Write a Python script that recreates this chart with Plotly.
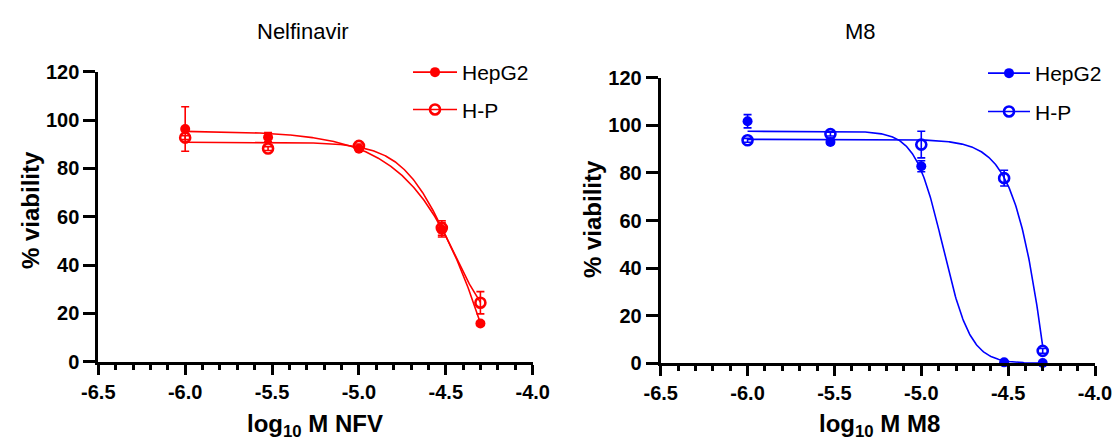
import numpy as np
import plotly.graph_objects as go

# ---------------- data ----------------
log_conc = [-6.0, -5.523, -5.0, -4.523, -4.301]   # log10 M

nfv_hepg2 = [96.3, 92.9, 88.1, 54.6, 15.8]
nfv_hepg2_err = [9.2, 1.9, 0.8, 3.0, 0.8]
nfv_hp = [92.7, 88.2, 89.3, 55.3, 24.4]
nfv_hp_err = [0.8, 0.8, 0.8, 3.0, 4.6]

m8_hepg2 = [101.7, 93.0, 82.8, 0.4, 0.1]
m8_hepg2_err = [2.8, 0.8, 2.3, 0.3, 0.2]
m8_hp = [93.7, 96.3, 91.9, 77.8, 5.2]
m8_hp_err = [0.8, 0.8, 5.6, 3.3, 1.0]

# fitted logistic curves: top, bottom, logIC50, hill, asymmetry
fit_nfv_hepg2 = [95.5, -200.0, -4.037, 1.645, 1.0]
fit_nfv_hp = [90.8, 5.0, -4.473, 3.08, 1.0]
fit_m8_hepg2 = [97.5, 0.0, -4.875, 5.5, 1.0]
fit_m8_hp = [94.1, -100.0, -3.9835, 3.82, 10.0]

x_ticks = [-6.5, -6.0, -5.5, -5.0, -4.5, -4.0]
y_ticks = [0, 20, 40, 60, 80, 100, 120]

RED = "#FF0000"
BLUE = "#0000FF"
FONT = "Arial, Liberation Sans, sans-serif"
W, H = 1115, 441


def curve(p, xs):
    top, bot, c, h, s = p
    xs = np.asarray(xs)
    return bot + (top - bot) / (1 + 10 ** ((xs - c) * h)) ** s


xs_fit = np.linspace(log_conc[0], log_conc[-1], 400)

fig = go.Figure()


def add_panel(xa, ya, leg, color, vals_f, err_f, vals_o, err_o, fit_f, fit_o):
    common = dict(xaxis=xa, yaxis=ya, legend=leg, cliponaxis=False)
    for p in (fit_f, fit_o):
        fig.add_trace(go.Scatter(x=xs_fit, y=curve(p, xs_fit), mode="lines",
                                 line=dict(color=color, width=1.6), showlegend=False,
                                 hoverinfo="skip", **common))
    fig.add_trace(go.Scatter(x=log_conc, y=vals_f, mode="markers", name="HepG2",
                             marker=dict(symbol="circle", size=10, color=color),
                             error_y=dict(type="data", array=err_f, color=color,
                                          thickness=1.6, width=4),
                             showlegend=False, **common))
    fig.add_trace(go.Scatter(x=log_conc, y=vals_o, mode="markers", name="H-P",
                             marker=dict(symbol="circle-open", size=10, color=color,
                                         line=dict(width=2.6, color=color)),
                             error_y=dict(type="data", array=err_o, color=color,
                                          thickness=1.6, width=4),
                             showlegend=False, **common))
    # legend entries (line + marker)
    fig.add_trace(go.Scatter(x=[None], y=[None], mode="lines+markers", name="HepG2",
                             line=dict(color=color, width=1.6),
                             marker=dict(symbol="circle", size=10, color=color),
                             legendgroup=leg + "a", **common))
    fig.add_trace(go.Scatter(x=[None], y=[None], mode="lines+markers", name="H-P",
                             line=dict(color=color, width=1.6),
                             marker=dict(symbol="circle-open", size=10, color=color,
                                         line=dict(width=2.6, color=color)),
                             legendgroup=leg + "b", **common))


add_panel("x", "y", "legend", RED, nfv_hepg2, nfv_hepg2_err, nfv_hp, nfv_hp_err,
          fit_nfv_hepg2, fit_nfv_hp)
add_panel("x2", "y2", "legend2", BLUE, m8_hepg2, m8_hepg2_err, m8_hp, m8_hp_err,
          fit_m8_hepg2, fit_m8_hp)

# pixel geometry of plot areas (page pixels)
L1, R1, T1, B1 = 98.3, 532.7, 71.7, 361.7
L2, R2, T2, B2 = 660.7, 1095.0, 77.7, 363.3


def px(x):
    return x / W


def py(y):
    return 1 - y / H


tickfont = dict(family=FONT, size=20, color="black", weight="bold")
xaxis_common = dict(range=[-6.5, -4.0], tickmode="array", tickvals=x_ticks,
                    ticktext=[f"{v:.1f}" for v in x_ticks], automargin=False,
                    showline=True, linewidth=3, linecolor="black", mirror=False,
                    ticks="outside", ticklen=10, tickwidth=3, tickcolor="black",
                    showgrid=False, zeroline=False, tickfont=tickfont,
                    minor=dict(dtick=0.1, tick0=-6.5, ticks="outside", ticklen=5,
                               tickwidth=2.5, tickcolor="black", showgrid=False))
yaxis_common = dict(range=[0, 120], tickmode="array", tickvals=y_ticks,
                    automargin=False,
                    showline=True, linewidth=3, linecolor="black",
                    ticks="outside", ticklen=12, tickwidth=3, tickcolor="black",
                    showgrid=False, zeroline=False, tickfont=tickfont)

legfont = dict(family=FONT, size=21, color="black")
fig.update_layout(
    template="none",
    width=W, height=H,
    margin=dict(l=0, r=0, t=0, b=0, autoexpand=False),
    paper_bgcolor="white", plot_bgcolor="white",
    showlegend=True,
    xaxis=dict(domain=[px(L1), px(R1)], anchor="y", **xaxis_common),
    yaxis=dict(domain=[py(B1), py(T1)], anchor="x", **yaxis_common),
    xaxis2=dict(domain=[px(L2), px(R2)], anchor="y2", **xaxis_common),
    yaxis2=dict(domain=[py(B2), py(T2)], anchor="x2", **yaxis_common),
    legend=dict(x=px(408), y=py(52), xanchor="left", yanchor="top",
                bgcolor="rgba(0,0,0,0)", font=legfont, borderwidth=0,
                traceorder="grouped", tracegroupgap=7, itemwidth=44),
    legend2=dict(x=px(983), y=py(53), xanchor="left", yanchor="top",
                 bgcolor="rgba(0,0,0,0)", font=legfont, borderwidth=0,
                 traceorder="grouped", tracegroupgap=8, itemwidth=42),
)

ann_font = dict(family=FONT, size=22, color="black")
bold_font = dict(family=FONT, size=24, color="black", weight="bold")
fig.add_annotation(x=px(303), y=py(31), xref="paper", yref="paper", text="Nelfinavir",
                   showarrow=False, font=ann_font, xanchor="center", yanchor="middle")
fig.add_annotation(x=px(860), y=py(31), xref="paper", yref="paper", text="M8",
                   showarrow=False, font=ann_font, xanchor="center", yanchor="middle")
fig.add_annotation(x=px(315), y=py(425), xref="paper", yref="paper",
                   text="log<sub>10</sub> M NFV", showarrow=False, font=bold_font,
                   xanchor="center", yanchor="middle")
fig.add_annotation(x=px(880), y=py(425), xref="paper", yref="paper",
                   text="log<sub>10</sub> M M8", showarrow=False, font=bold_font,
                   xanchor="center", yanchor="middle")
fig.add_annotation(x=px(30), y=py(210), xref="paper", yref="paper", text="% viability",
                   textangle=-90, showarrow=False, font=bold_font,
                   xanchor="center", yanchor="middle")
fig.add_annotation(x=px(592), y=py(219), xref="paper", yref="paper", text="% viability",
                   textangle=-90, showarrow=False, font=bold_font,
                   xanchor="center", yanchor="middle")

fig.write_html(
    "out.html",
    config={"displayModeBar": False},
    post_script="document.documentElement.style.margin='0';"
                "document.body.style.margin='0';"
                "document.body.style.overflow='hidden';",
)
